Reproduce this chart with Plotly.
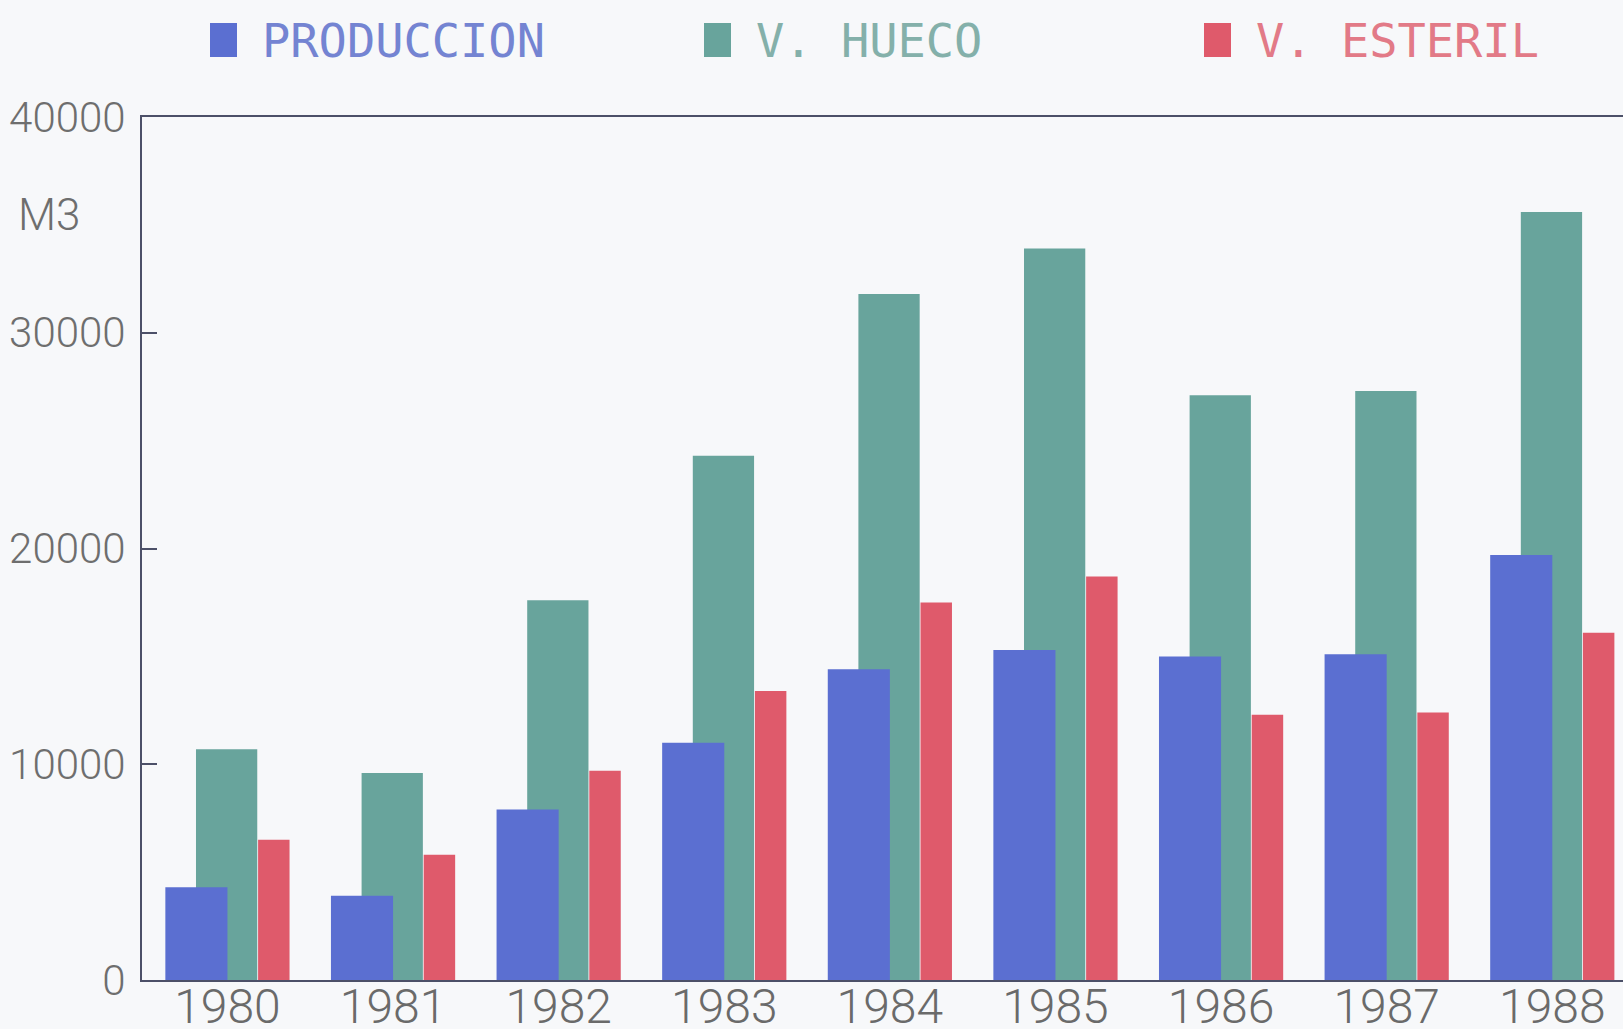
import plotly.graph_objects as go

# Annual volumes (m3) per year
years = [1980, 1981, 1982, 1983, 1984, 1985, 1986, 1987, 1988]
produccion = [4300, 3900, 7900, 11000, 14400, 15300, 15000, 15100, 19700]
v_hueco = [10700, 9600, 17600, 24300, 31800, 33900, 27100, 27300, 35600]
v_esteril = [6500, 5800, 9700, 13400, 17500, 18700, 12300, 12400, 16100]

y_ticks = [0, 10000, 20000, 30000, 40000]

names = ["PRODUCCION", "V. HUECO", "V. ESTERIL"]
bar_colors = ["#5b6fd1", "#68a49c", "#df5a6b"]
text_colors = ["#7484d2", "#84b0aa", "#e27a87"]

NUM_FONT = "Roboto, Liberation Sans, sans-serif"
LEG_FONT = "DejaVu Sans Mono, Liberation Mono, monospace"
AXIS_COL = "#4c5068"

fig = go.Figure()

# V. HUECO sits behind PRODUCCION, so it is added first
fig.add_trace(go.Bar(x=years, y=v_hueco, name=names[1], marker_color=bar_colors[1],
                     marker_line_width=0, offset=-0.19, width=0.37, showlegend=False))
fig.add_trace(go.Bar(x=years, y=produccion, name=names[0], marker_color=bar_colors[0],
                     marker_line_width=0, offset=-0.375, width=0.375, showlegend=False))
fig.add_trace(go.Bar(x=years, y=v_esteril, name=names[2], marker_color=bar_colors[2],
                     marker_line_width=0, offset=0.185, width=0.19, showlegend=False))

# Header key: coloured swatch + label for each series
key_x = [210, 704, 1204]  # swatch left edge in px
W, H = 1623, 1029
PL, PT, PB = 142, 117, 980
for nm, bc, tc, kx in zip(names, bar_colors, text_colors, key_x):
    fig.add_shape(type="rect", xref="paper", yref="paper",
                  x0=(kx - PL) / (W - PL), x1=(kx + 27 - PL) / (W - PL),
                  y0=(PB - 57) / (PB - PT), y1=(PB - 23) / (PB - PT),
                  fillcolor=bc, line_width=0, layer="above")
    fig.add_annotation(xref="paper", yref="paper",
                       x=(kx + 50 - PL) / (W - PL), y=(PB - 40) / (PB - PT),
                       xanchor="left", yanchor="middle", showarrow=False,
                       text=nm, font=dict(family=LEG_FONT, size=47, color=tc))

# Unit label
fig.add_annotation(xref="paper", yref="paper",
                   x=(16 - PL) / (W - PL), y=(PB - 215) / (PB - PT),
                   xanchor="left", yanchor="middle", showarrow=False,
                   text="M3", font=dict(family=NUM_FONT, size=44, color="#6e6e6e", weight=300))

fig.update_layout(
    width=W, height=H,
    margin=dict(l=PL, r=0, t=PT, b=H - PB, autoexpand=False),
    barmode="overlay",
    paper_bgcolor="#f7f8fa",
    plot_bgcolor="#f7f8fa",
    showlegend=False,
    xaxis=dict(
        range=[1979.484, 1988.427],
        tickmode="array", tickvals=years, ticktext=[str(y) for y in years],
        showgrid=False, zeroline=False,
        showline=True, linecolor=AXIS_COL, linewidth=2, mirror=True,
        ticks="", ticklabelstandoff=-17,
        tickfont=dict(family=NUM_FONT, size=48, color="#6a6a6a", weight=300),
        automargin=False,
    ),
    yaxis=dict(
        range=[0, 40000],
        tickmode="array", tickvals=y_ticks, ticktext=[str(v) for v in y_ticks],
        showgrid=False, zeroline=False,
        showline=True, linecolor=AXIS_COL, linewidth=2,
        ticks="inside", ticklen=15, tickwidth=2, tickcolor=AXIS_COL,
        ticklabelstandoff=6,
        tickfont=dict(family=NUM_FONT, size=42, color="#6e6e6e", weight=300),
        automargin=False,
    ),
)

fig.write_html("out.html")
